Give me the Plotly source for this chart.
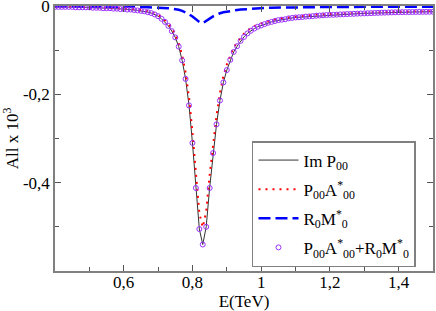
import plotly.graph_objects as go

# Energy grid (TeV)
energy = [round(0.40 + 0.01 * i, 2) for i in range(111)]

# Im P00 (x 10^3)
im_p00 = [
    -0.002, -0.002, -0.002, -0.002, -0.002, -0.002, -0.003, -0.003, -0.003, -0.003,
    -0.003, -0.004, -0.004, -0.004, -0.005, -0.005, -0.005, -0.006, -0.006, -0.007,
    -0.007, -0.008, -0.008, -0.009, -0.010, -0.011, -0.012, -0.014, -0.016, -0.019,
    -0.023, -0.029, -0.036, -0.045, -0.057, -0.071, -0.092, -0.123, -0.165, -0.225,
    -0.310, -0.412, -0.505, -0.540, -0.500, -0.412, -0.333, -0.268, -0.214, -0.173,
    -0.145, -0.122, -0.104, -0.091, -0.079, -0.070, -0.062, -0.056, -0.051, -0.047,
    -0.044, -0.041, -0.038, -0.036, -0.034, -0.032, -0.031, -0.030, -0.028, -0.027,
    -0.026, -0.0255, -0.025, -0.024, -0.0235, -0.023, -0.022, -0.0215, -0.021, -0.0205,
    -0.020, -0.020, -0.0195, -0.019, -0.0187, -0.0183, -0.018, -0.0177, -0.0173, -0.017,
    -0.0167, -0.0164, -0.0161, -0.0158, -0.0155, -0.0152, -0.015, -0.0147, -0.0144, -0.0142,
    -0.014, -0.0139, -0.0138, -0.0137, -0.0136, -0.0135, -0.0134, -0.0133, -0.0132, -0.0131,
    -0.013,
]

# P00 A*00
p00_a00 = [
    -0.0015, -0.0015, -0.0015, -0.0015, -0.0014, -0.0014, -0.0024, -0.0023, -0.0023, -0.0023,
    -0.0022, -0.0032, -0.0031, -0.0031, -0.0040, -0.0040, -0.0039, -0.0048, -0.0047, -0.0056,
    -0.0055, -0.0064, -0.0063, -0.0072, -0.0080, -0.0088, -0.0096, -0.0114, -0.0131, -0.0158,
    -0.0194, -0.0250, -0.0315, -0.0399, -0.0512, -0.0642, -0.0835, -0.1120, -0.1505, -0.2065,
    -0.2860, -0.3820, -0.4690, -0.5010, -0.4655, -0.3835, -0.3095, -0.2485, -0.1975, -0.1588,
    -0.1325, -0.1108, -0.0940, -0.0820, -0.0709, -0.0626, -0.0553, -0.0499, -0.0454, -0.0419,
    -0.0393, -0.0366, -0.0339, -0.0321, -0.0303, -0.0285, -0.0277, -0.0268, -0.0249, -0.0240,
    -0.0231, -0.0227, -0.0223, -0.0213, -0.0209, -0.0205, -0.0195, -0.0191, -0.0186, -0.0182,
    -0.0177, -0.0178, -0.0173, -0.0169, -0.0166, -0.0162, -0.0160, -0.0157, -0.0153, -0.0151,
    -0.0148, -0.0145, -0.0142, -0.0140, -0.0137, -0.0134, -0.0132, -0.0130, -0.0127, -0.0125,
    -0.0123, -0.0123, -0.0122, -0.0121, -0.0120, -0.0119, -0.0118, -0.0117, -0.0116, -0.0115,
    -0.0114,
]

# R0 M*0
r0_m0 = [
    -0.0005, -0.0005, -0.0005, -0.0005, -0.0006, -0.0006, -0.0006, -0.0007, -0.0007, -0.0007,
    -0.0008, -0.0008, -0.0009, -0.0009, -0.0010, -0.0010, -0.0011, -0.0012, -0.0013, -0.0014,
    -0.0015, -0.0016, -0.0017, -0.0018, -0.0020, -0.0022, -0.0024, -0.0026, -0.0029, -0.0032,
    -0.0036, -0.0040, -0.0045, -0.0051, -0.0058, -0.0068, -0.0085, -0.0110, -0.0145, -0.0185,
    -0.0240, -0.0300, -0.0360, -0.0390, -0.0345, -0.0285, -0.0235, -0.0195, -0.0165, -0.0142,
    -0.0125, -0.0112, -0.0100, -0.0090, -0.0081, -0.0074, -0.0067, -0.0061, -0.0056, -0.0051,
    -0.0047, -0.0044, -0.0041, -0.0039, -0.0037, -0.0035, -0.0033, -0.0032, -0.0031, -0.0030,
    -0.0029, -0.0028, -0.0027, -0.0027, -0.0026, -0.0025, -0.0025, -0.0024, -0.0024, -0.0023,
    -0.0023, -0.0022, -0.0022, -0.0021, -0.0021, -0.0021, -0.0020, -0.0020, -0.0020, -0.0019,
    -0.0019, -0.0019, -0.0019, -0.0018, -0.0018, -0.0018, -0.0018, -0.0017, -0.0017, -0.0017,
    -0.0017, -0.0016, -0.0016, -0.0016, -0.0016, -0.0016, -0.0016, -0.0016, -0.0016, -0.0016,
    -0.0016,
]

# P00 A*00 + R0 M*0 (markers lie on the Im P00 curve)
sum_vals = list(im_p00)

x_tickvals = [0.6, 0.8, 1.0, 1.2, 1.4]
x_ticktext = ["0,6", "0,8", "1", "1,2", "1,4"]
x_minor = [0.5, 0.7, 0.9, 1.1, 1.3, 1.5]
y_tickvals = [0, -0.2, -0.4]
y_ticktext = ["0", "-0,2", "-0,4"]
y_minor = [-0.1, -0.3, -0.5]

FONT = "Liberation Serif, Times New Roman, DejaVu Serif, serif"

fig = go.Figure()
fig.add_trace(go.Scatter(x=energy, y=im_p00, mode="lines", name="Im P<sub>00</sub>",
                         legendgroup="a", line=dict(color="#333333", width=1)))
fig.add_trace(go.Scatter(x=energy, y=p00_a00, mode="lines",
                         name="P<sub>00</sub>A<sup>*</sup><sub>00</sub>", legendgroup="b",
                         line=dict(color="#ff0000", width=2, dash="2px,5px")))
fig.add_trace(go.Scatter(x=energy, y=r0_m0, mode="lines",
                         name="R<sub>0</sub>M<sup>*</sup><sub>0</sub>", legendgroup="c",
                         line=dict(color="#0000ff", width=2.5, dash="12px,5px")))
fig.add_trace(go.Scatter(x=energy, y=sum_vals, mode="markers", legendgroup="d",
                         name="P<sub>00</sub>A<sup>*</sup><sub>00</sub>+R<sub>0</sub>M<sup>*</sup><sub>0</sub>",
                         marker=dict(symbol="circle-open", size=5, color="#9b30ff",
                                     line=dict(width=1, color="#9b30ff"))))

axis_common = dict(
    showline=True, linecolor="#808080", linewidth=1.5, mirror="allticks",
    ticks="inside", ticklen=6, tickcolor="#555555", tickwidth=1,
    showgrid=False, zeroline=False, automargin=False,
    ticklabeloverflow="allow",
    tickfont=dict(family=FONT, size=17, color="black"),
)

fig.update_xaxes(range=[0.4, 1.5], tickmode="array", tickvals=x_tickvals, ticktext=x_ticktext,
                 minor=dict(tickmode="array", tickvals=x_minor, ticks="inside", ticklen=4,
                            tickcolor="#555555"),
                 ticklabelstandoff=-5,
                 title=dict(text="E(TeV)", font=dict(family=FONT, size=17, color="black"), standoff=8),
                 **axis_common)
fig.update_yaxes(range=[-0.6, 0], tickmode="array", tickvals=y_tickvals, ticktext=y_ticktext,
                 minor=dict(tickmode="array", tickvals=y_minor, ticks="inside", ticklen=4,
                            tickcolor="#555555"),
                 title=dict(text="All x 10<sup>3</sup>", font=dict(family=FONT, size=17, color="black"), standoff=4),
                 **axis_common)

fig.update_layout(
    width=436, height=311,
    margin=dict(l=55, r=3, t=6, b=40),
    plot_bgcolor="white", paper_bgcolor="white",
    font=dict(family=FONT, size=17, color="black"),
    legend=dict(x=0.955, y=0.015, xanchor="right", yanchor="bottom",
                bgcolor="white", bordercolor="#808080", borderwidth=1.5,
                font=dict(family=FONT, size=17, color="black"),
                tracegroupgap=4, itemwidth=40),
    showlegend=True,
)

fig.write_html("out.html", config={"displayModeBar": False},
               post_script="document.body.style.margin='0';")
